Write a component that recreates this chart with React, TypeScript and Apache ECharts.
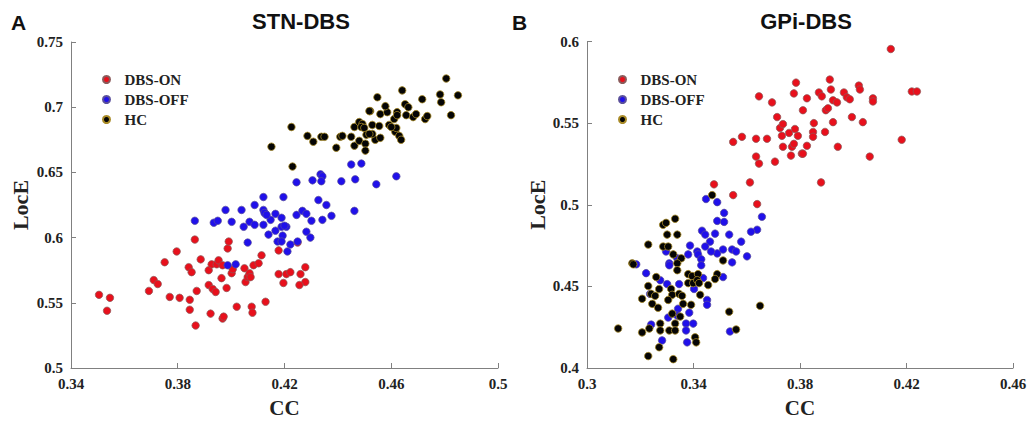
import React, { useEffect, useRef } from "react";
import * as echarts from "echarts";

// STN-DBS panel (x: CC, y: LocE)
const stnOn: number[][] = [
  [0.3505, 0.5561], [0.3546, 0.5538], [0.3535, 0.5439], [0.3692, 0.5591], [0.371, 0.5674],
  [0.3725, 0.5644], [0.3751, 0.5811], [0.377, 0.5545], [0.3796, 0.5894], [0.3807, 0.5538],
  [0.3841, 0.5773], [0.3852, 0.5735], [0.3845, 0.5523], [0.3845, 0.5447], [0.3864, 0.5985],
  [0.3871, 0.5591], [0.3867, 0.5326], [0.3886, 0.5833], [0.3916, 0.575], [0.3916, 0.5636],
  [0.3923, 0.5417], [0.3927, 0.5795], [0.3931, 0.5606], [0.3942, 0.5583], [0.3946, 0.5795],
  [0.3953, 0.5826], [0.3968, 0.5788], [0.3964, 0.5689], [0.3968, 0.5379], [0.3972, 0.5394],
  [0.3983, 0.5614], [0.3987, 0.5917], [0.3991, 0.597], [0.4002, 0.5727], [0.4006, 0.5758],
  [0.4021, 0.547], [0.405, 0.5765], [0.4054, 0.5659], [0.4062, 0.5697], [0.4069, 0.5727],
  [0.4073, 0.5697], [0.4077, 0.547], [0.408, 0.5424], [0.4084, 0.5788], [0.4103, 0.5803],
  [0.4114, 0.5864], [0.4129, 0.5508], [0.4178, 0.5902], [0.4178, 0.572], [0.4196, 0.5652],
  [0.4207, 0.572], [0.4222, 0.5735], [0.426, 0.572], [0.4278, 0.5773], [0.4278, 0.5659],
  [0.4256, 0.5636], [0.4249, 0.5962],
];
const stnOff: number[][] = [
  [0.3864, 0.6129], [0.3935, 0.6114], [0.395, 0.6129], [0.3979, 0.6212], [0.4002, 0.6121],
  [0.4039, 0.6212], [0.4047, 0.6083], [0.4062, 0.5962], [0.4069, 0.6121], [0.4088, 0.625],
  [0.4088, 0.6098], [0.4121, 0.6311], [0.4121, 0.6212], [0.4129, 0.6182], [0.4121, 0.6098],
  [0.4148, 0.6136], [0.414, 0.6023], [0.4166, 0.6182], [0.4166, 0.6053], [0.4174, 0.597],
  [0.4189, 0.6152], [0.4189, 0.6083], [0.4193, 0.6015], [0.4196, 0.6311], [0.4207, 0.6083],
  [0.4211, 0.5894], [0.3987, 0.5788], [0.4017, 0.5795], [0.4125, 0.6189], [0.4133, 0.6174],
  [0.42, 0.6091], [0.4189, 0.597], [0.4222, 0.5947], [0.4249, 0.597], [0.4245, 0.6424],
  [0.4305, 0.6439], [0.4335, 0.6485], [0.4342, 0.647], [0.4338, 0.6432], [0.4413, 0.6432],
  [0.4245, 0.6174], [0.4267, 0.6205], [0.4282, 0.6182], [0.4301, 0.6129], [0.4327, 0.6288],
  [0.4357, 0.625], [0.4342, 0.6136], [0.4376, 0.6167], [0.4282, 0.6045], [0.4297, 0.6],
  [0.445, 0.6561], [0.4488, 0.6568], [0.4619, 0.647], [0.4544, 0.6409], [0.4465, 0.6447],
  [0.4462, 0.6205],
];
const stnHc: number[][] = [
  [0.4151, 0.6697], [0.4226, 0.6848], [0.423, 0.6545], [0.4286, 0.678], [0.4308, 0.6735],
  [0.4338, 0.6773], [0.435, 0.6773], [0.4394, 0.6689], [0.4409, 0.6773], [0.4417, 0.678],
  [0.445, 0.6773], [0.4462, 0.6705], [0.4462, 0.6848], [0.448, 0.6886], [0.4492, 0.6871],
  [0.4488, 0.6848], [0.4499, 0.6841], [0.448, 0.6742], [0.4503, 0.672], [0.4503, 0.6667],
  [0.4507, 0.6788], [0.4521, 0.697], [0.4529, 0.6864], [0.454, 0.675], [0.4559, 0.6765],
  [0.4555, 0.6856], [0.4559, 0.6947], [0.4585, 0.6962], [0.4578, 0.7008], [0.4592, 0.6864],
  [0.4611, 0.6909], [0.4622, 0.6962], [0.4622, 0.6939], [0.4615, 0.6811], [0.463, 0.678],
  [0.4637, 0.675], [0.4619, 0.6841], [0.4652, 0.7023], [0.4664, 0.7], [0.4656, 0.6939],
  [0.4682, 0.6924], [0.4693, 0.6947], [0.4727, 0.6909], [0.4735, 0.6932], [0.4787, 0.7038],
  [0.4824, 0.6939], [0.4716, 0.7061], [0.4806, 0.722], [0.4641, 0.7129], [0.4548, 0.7076],
  [0.4783, 0.7098], [0.485, 0.7091], [0.4518, 0.697], [0.4529, 0.6795], [0.4518, 0.6795],
  [0.46, 0.6848],
];

// GPi-DBS panel
const gpiOn: number[][] = [
  [0.3646, 0.5664], [0.3695, 0.5627], [0.3714, 0.5537], [0.3725, 0.547], [0.3736, 0.5494],
  [0.3732, 0.5422], [0.3759, 0.544], [0.3736, 0.5355], [0.377, 0.5355], [0.3777, 0.5373],
  [0.3766, 0.5301], [0.3785, 0.5748], [0.3777, 0.5682], [0.3781, 0.5464], [0.3792, 0.5422],
  [0.3807, 0.5313], [0.3811, 0.5313], [0.3811, 0.5579], [0.3826, 0.5652], [0.3826, 0.5361],
  [0.3849, 0.5446], [0.3849, 0.5416], [0.3852, 0.55], [0.3871, 0.5688], [0.3882, 0.5664],
  [0.3897, 0.5579], [0.3905, 0.5591], [0.3894, 0.5446], [0.3912, 0.5767], [0.3916, 0.5706],
  [0.3924, 0.564], [0.3939, 0.5627], [0.3924, 0.5506], [0.3942, 0.5355], [0.3879, 0.5137],
  [0.3549, 0.5385], [0.3582, 0.5416], [0.3635, 0.5404], [0.3676, 0.5404], [0.3635, 0.5295],
  [0.3646, 0.5252], [0.3706, 0.5264], [0.3612, 0.5137], [0.3549, 0.5059], [0.3477, 0.5125],
  [0.3639, 0.5004], [0.4141, 0.5954], [0.3965, 0.5688], [0.3976, 0.5658], [0.3987, 0.5646],
  [0.3995, 0.5537], [0.4021, 0.573], [0.4025, 0.5706], [0.4036, 0.5506], [0.4074, 0.5652],
  [0.4074, 0.5633], [0.4062, 0.5295], [0.4182, 0.5398], [0.422, 0.5694], [0.4239, 0.5694],
];
const gpiOff: number[][] = [
  [0.3447, 0.5035], [0.3489, 0.5016], [0.3515, 0.495], [0.3489, 0.4901], [0.3515, 0.4895],
  [0.3657, 0.4926], [0.3639, 0.4847], [0.3616, 0.4835], [0.3579, 0.4774], [0.3601, 0.4684],
  [0.3545, 0.4726], [0.356, 0.4714], [0.3534, 0.4817], [0.3481, 0.4823], [0.3432, 0.4841],
  [0.3444, 0.4817], [0.3462, 0.4774], [0.3444, 0.4744], [0.3489, 0.4702], [0.3511, 0.4726],
  [0.3466, 0.4714], [0.3511, 0.4557], [0.3545, 0.4647], [0.3387, 0.475], [0.3414, 0.4714],
  [0.3417, 0.4696], [0.3429, 0.4666], [0.3429, 0.4629], [0.338, 0.4696], [0.3339, 0.4672],
  [0.3309, 0.4641], [0.3309, 0.4629], [0.3297, 0.4714], [0.3185, 0.4635], [0.3222, 0.4581],
  [0.3275, 0.4538], [0.3301, 0.4514], [0.3346, 0.4514], [0.3402, 0.4484], [0.3436, 0.4551],
  [0.3237, 0.4454], [0.3451, 0.4417], [0.3451, 0.4387], [0.3342, 0.4363], [0.3384, 0.4339],
  [0.3305, 0.4309], [0.3339, 0.4321], [0.3372, 0.4272], [0.3399, 0.4272], [0.3241, 0.4266],
  [0.3372, 0.423], [0.3282, 0.4169], [0.3376, 0.4157], [0.3537, 0.4224],
];
const gpiHc: number[][] = [
  [0.347, 0.5059], [0.3331, 0.4914], [0.3286, 0.4877], [0.3297, 0.4889], [0.3301, 0.4817],
  [0.3339, 0.4817], [0.323, 0.4756], [0.3286, 0.4744], [0.3305, 0.4744], [0.3324, 0.4696],
  [0.317, 0.4641], [0.3174, 0.4635], [0.3354, 0.4672], [0.3339, 0.4641], [0.3339, 0.4599],
  [0.338, 0.4575], [0.3395, 0.4563], [0.3417, 0.4575], [0.3489, 0.4575], [0.3481, 0.4545],
  [0.3511, 0.4659], [0.326, 0.4557], [0.323, 0.4502], [0.3241, 0.4454], [0.3207, 0.4424],
  [0.3256, 0.4442], [0.3271, 0.4484], [0.3316, 0.4484], [0.332, 0.4448], [0.3346, 0.4454],
  [0.3357, 0.4442], [0.3361, 0.4393], [0.3305, 0.4417], [0.338, 0.452], [0.3399, 0.452],
  [0.3414, 0.4538], [0.3421, 0.452], [0.3455, 0.4508], [0.3425, 0.4448], [0.3245, 0.4393],
  [0.3267, 0.4369], [0.332, 0.4333], [0.3331, 0.4272], [0.335, 0.4315], [0.3391, 0.4387],
  [0.3275, 0.4272], [0.3275, 0.423], [0.3309, 0.423], [0.3331, 0.423], [0.3234, 0.4242],
  [0.3207, 0.4218], [0.3117, 0.4242], [0.3271, 0.4127], [0.323, 0.4073], [0.3324, 0.4054],
  [0.3406, 0.4188], [0.341, 0.4157], [0.3534, 0.4345], [0.356, 0.4236], [0.365, 0.4381],
];

const groupNames = ["DBS-ON", "DBS-OFF", "HC"];
const stnXTicks = [0.34, 0.38, 0.42, 0.46, 0.5];
const stnYTicks = [0.5, 0.55, 0.6, 0.65, 0.7, 0.75];
const gpiXTicks = [0.3, 0.34, 0.38, 0.42, 0.46];
const gpiYTicks = [0.4, 0.45, 0.5, 0.55, 0.6];
const panelTitles = ["STN-DBS", "GPi-DBS"];
const panelLetters = ["A", "B"];

const SERIF = "'Liberation Serif', 'Times New Roman', serif";
const SANS = "'Liberation Sans', Arial, sans-serif";
const AXIS_COLOR = "#808080";

const styles = [
  { color: "#e8101c", borderColor: "#8a5a5a", borderWidth: 0.7, opacity: 1 },
  { color: "#2010ea", borderColor: "#5a4f9a", borderWidth: 0.7, opacity: 1 },
  { color: "#050505", borderColor: "#a88a26", borderWidth: 0.8, opacity: 1 },
];

function xAxis(gridIndex: number, min: number, max: number, ticks: number[]) {
  return {
    type: "value",
    gridIndex,
    min,
    max,
    name: "CC",
    nameLocation: "middle",
    nameGap: 29,
    nameTextStyle: { fontFamily: SERIF, fontSize: 21, fontWeight: "bold", color: "#222" },
    axisLine: { show: true, onZero: false, lineStyle: { color: AXIS_COLOR, width: 1 } },
    axisTick: { show: true, inside: true, length: 5, customValues: ticks, lineStyle: { color: AXIS_COLOR } },
    axisLabel: {
      customValues: ticks,
      margin: 8,
      fontFamily: SERIF,
      fontSize: 15,
      fontWeight: "bold",
      color: "#222",
    },
    splitLine: { show: false },
  };
}

function yAxis(gridIndex: number, min: number, max: number, ticks: number[], gap: number) {
  return {
    type: "value",
    gridIndex,
    min,
    max,
    name: "LocE",
    nameLocation: "middle",
    nameGap: gap,
    nameTextStyle: { fontFamily: SERIF, fontSize: 22, fontWeight: "bold", color: "#222" },
    axisLine: { show: true, onZero: false, lineStyle: { color: AXIS_COLOR, width: 1 } },
    axisTick: { show: true, inside: true, length: 5, customValues: ticks, lineStyle: { color: AXIS_COLOR } },
    axisLabel: {
      customValues: ticks,
      margin: 8,
      fontFamily: SERIF,
      fontSize: 15,
      fontWeight: "bold",
      color: "#222",
    },
    splitLine: { show: false },
  };
}

function legend(left: number) {
  return {
    data: groupNames,
    orient: "vertical",
    left,
    top: 67,
    itemWidth: 26,
    itemHeight: 7,
    itemGap: 5,
    icon: "circle",
    textStyle: { fontFamily: SERIF, fontSize: 15, fontWeight: "bold", color: "#222" },
    selectedMode: false,
  };
}

export default function App() {
  const ref = useRef<HTMLDivElement>(null);

  useEffect(() => {
    if (!ref.current) return;
    const chart = echarts.init(ref.current, undefined, { renderer: "svg" });
    const panels = [
      [stnOn, stnOff, stnHc],
      [gpiOn, gpiOff, gpiHc],
    ];
    const series: any[] = [];
    panels.forEach((groups, p) => {
      groups.forEach((data, g) => {
        series.push({
          type: "scatter",
          name: groupNames[g],
          xAxisIndex: p,
          yAxisIndex: p,
          data,
          symbol: "circle",
          symbolSize: 7.5,
          itemStyle: styles[g],
          emphasis: { disabled: true },
        });
      });
    });

    chart.setOption({
      animation: false,
      backgroundColor: "#ffffff",
      grid: [
        { left: 71, top: 42, width: 427, height: 330 },
        { left: 587, top: 41.5, width: 426, height: 330.5 },
      ],
      xAxis: [xAxis(0, 0.34, 0.5, stnXTicks), xAxis(1, 0.3, 0.46, gpiXTicks)],
      yAxis: [yAxis(0, 0.5, 0.75, stnYTicks, 40), yAxis(1, 0.4, 0.6, gpiYTicks, 39)],
      legend: [legend(97), legend(613)],
      graphic: [
        {
          type: "text",
          x: 301,
          y: 21,
          style: { text: panelTitles[0], font: `bold 22px ${SANS}`, fill: "#111", align: "center", verticalAlign: "middle" },
        },
        {
          type: "text",
          x: 806,
          y: 21,
          style: { text: panelTitles[1], font: `bold 22px ${SANS}`, fill: "#111", align: "center", verticalAlign: "middle" },
        },
        {
          type: "text",
          x: 11,
          y: 22,
          style: { text: panelLetters[0], font: `bold 21px ${SANS}`, fill: "#111", align: "left", verticalAlign: "middle" },
        },
        {
          type: "text",
          x: 512,
          y: 22,
          style: { text: panelLetters[1], font: `bold 21px ${SANS}`, fill: "#111", align: "left", verticalAlign: "middle" },
        },
      ],
      series,
    });
    return () => chart.dispose();
  }, []);

  return <div ref={ref} style={{ width: 1032, height: 423, position: "absolute", left: 0, top: 0 }} />;
}
